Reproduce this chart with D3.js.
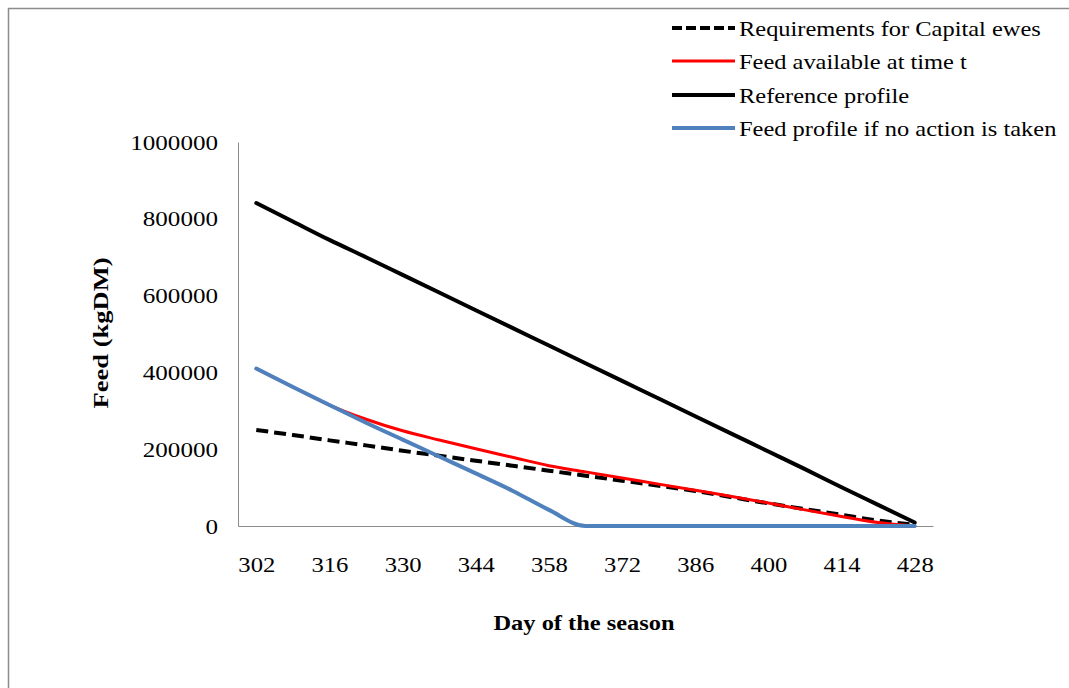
<!DOCTYPE html>
<html>
<head>
<meta charset="utf-8">
<script src="https://cdn.jsdelivr.net/npm/d3@7"></script>
<style>
  html, body { margin: 0; padding: 0; background: #fff; }
  svg { display: block; font-family: "Liberation Serif", "Times New Roman", serif; }
</style>
</head>
<body>
<svg id="chart" width="1069" height="688"></svg>
<script>
// ---- data ----
const days = [302, 309, 316, 323, 330, 337, 344, 351, 358, 365, 372, 379, 386, 393, 400, 407, 414, 421, 428];
const tickDays = [302, 316, 330, 344, 358, 372, 386, 400, 414, 428];
const yTicks = [0, 200000, 400000, 600000, 800000, 1000000];

const requirements = [250000, 237000, 223000, 210000, 196000, 183000, 170000, 157000, 144000, 131000, 118000, 105000, 91000, 75000, 59000, 44000, 29000, 14000, 3000];
const feedAvailable = [410000, 362000, 315000, 278000, 248000, 224000, 201000, 179000, 157000, 141000, 125000, 109000, 93000, 77000, 60000, 42000, 25000, 9000, 0];
const referenceProfile = [841000, 793000, 745000, 700000, 654000, 608000, 562000, 516000, 470000, 424000, 378000, 332000, 286000, 240000, 194000, 148000, 101000, 55000, 9000];
const noActionProfile = [410000, 362000, 315000, 269000, 225000, 181000, 137000, 92000, 42000, 0, 0, 0, 0, 0, 0, 0, 0, 0, 0];

const seriesNames = ["Requirements for Capital ewes", "Feed available at time t", "Reference profile", "Feed profile if no action is taken"];
const seriesValues = [requirements, feedAvailable, referenceProfile, noActionProfile];
const seriesColors = ["#000000", "#ff0000", "#000000", "#4f81bd"];
const seriesWidths = [4, 3, 4, 4];
const seriesDash = ["12,6", null, null, null];

// ---- layout ----
const svg = d3.select("#chart");
const plot = { left: 238, right: 933, top: 142, bottom: 526 };

// stretch text horizontally (reference glyphs are wider than Liberation Serif)
function stretch(sel, k) {
  sel.each(function () {
    const w = this.getComputedTextLength();
    d3.select(this).attr("textLength", w * k).attr("lengthAdjust", "spacingAndGlyphs");
  });
}

// outer border
svg.append("rect")
  .attr("x", 8.5).attr("y", 8.5)
  .attr("width", 1100).attr("height", 700)
  .attr("fill", "none").attr("stroke", "#8c8c8c").attr("stroke-width", 1.5);

const x = d3.scalePoint().domain(days).range([plot.left, plot.right]).padding(0.5);
const y = d3.scaleLinear().domain([0, 1000000]).range([plot.bottom, plot.top]);

// y axis
const yAxis = svg.append("g")
  .attr("transform", `translate(${plot.left},0)`)
  .call(d3.axisLeft(y).tickValues(yTicks).tickFormat(d3.format("d")).tickSize(0).tickPadding(20));
yAxis.select(".domain").attr("stroke", "#8c8c8c").attr("stroke-width", 1);
yAxis.selectAll("text").attr("font-size", 22).attr("fill", "#000")
  .attr("font-family", "Liberation Serif").call(stretch, 1.14);

// x axis
const xAxis = svg.append("g")
  .attr("transform", `translate(0,${plot.bottom})`)
  .call(d3.axisBottom(x).tickValues(tickDays).tickSize(0).tickPadding(30));
xAxis.select(".domain").attr("stroke", "#8c8c8c").attr("stroke-width", 1);
xAxis.selectAll("text").attr("font-size", 22).attr("fill", "#000")
  .attr("font-family", "Liberation Serif").call(stretch, 1.12);

// axis titles
svg.append("text")
  .attr("x", 584).attr("y", 630)
  .attr("text-anchor", "middle")
  .attr("font-size", 22).attr("font-weight", "bold")
  .attr("textLength", 181).attr("lengthAdjust", "spacingAndGlyphs")
  .text("Day of the season");

svg.append("text")
  .attr("transform", "translate(108,333) rotate(-90)")
  .attr("text-anchor", "middle")
  .attr("font-size", 22).attr("font-weight", "bold")
  .attr("textLength", 151).attr("lengthAdjust", "spacingAndGlyphs")
  .text("Feed (kgDM)");

// lines
const line = d3.line()
  .x((d, i) => x(days[i]))
  .y(d => y(d))
  .curve(d3.curveMonotoneX);

seriesValues.forEach((vals, k) => {
  svg.append("path")
    .datum(vals)
    .attr("d", line)
    .attr("fill", "none")
    .attr("stroke", seriesColors[k])
    .attr("stroke-width", seriesWidths[k])
    .attr("stroke-dasharray", seriesDash[k])
    .attr("stroke-linejoin", "round")
    .attr("stroke-linecap", seriesDash[k] ? "butt" : "round");
});

// legend
const legendY = [28, 61, 95, 128];
const legend = svg.append("g");
seriesNames.forEach((name, k) => {
  const g = legend.append("g").attr("transform", `translate(0,${legendY[k]})`);
  g.append("line")
    .attr("x1", 672).attr("x2", 735)
    .attr("y1", 0).attr("y2", 0)
    .attr("stroke", seriesColors[k])
    .attr("stroke-width", seriesWidths[k])
    .attr("stroke-dasharray", seriesDash[k] ? "10,4" : null);
  g.append("text")
    .attr("x", 739).attr("y", 0)
    .attr("dy", "0.35em")
    .attr("font-size", 22)
    .attr("fill", "#000")
    .text(name)
    .call(stretch, 1.11);
});
</script>
</body>
</html>
